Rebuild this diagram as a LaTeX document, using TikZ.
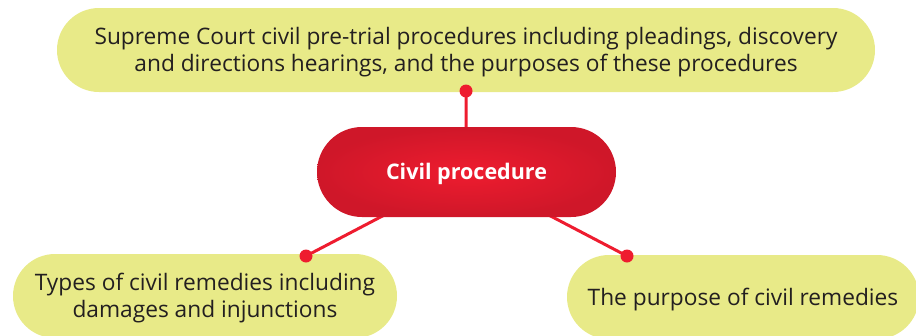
\documentclass[tikz,border=0pt]{standalone}
\usepackage{fontspec}
\setmainfont{Open Sans}
\usetikzlibrary{shapes.misc,backgrounds}
\definecolor{boxy}{HTML}{E8EA88}
\definecolor{redc}{HTML}{EE1C2F}
\definecolor{redd}{HTML}{CF1729}
\definecolor{txt}{HTML}{231F20}
\newcommand{\lowtext}[1]{\raisebox{-3pt}[\height][\depth]{\begin{tabular}{@{}c@{}}#1\end{tabular}}}
\tikzset{
  topic/.style={rounded rectangle, fill=boxy, draw=none, text=txt,
    font=\fontsize{22.7}{27}\selectfont, inner sep=0pt},
  hub/.style={rounded rectangle, draw=none, inner color=redc, outer color=redd,
    text=white, font=\fontsize{21.5}{24}\selectfont\bfseries, inner sep=0pt,
    minimum width=299pt, minimum height=90pt},
  link/.style={draw=redc, line width=3pt},
  knob/.style={circle, fill=redc, inner sep=0pt, minimum size=13pt}
}
\begin{document}
\begin{tikzpicture}[x=1pt,y=-1pt]
\useasboundingbox (0,0) rectangle (916,335);
\clip (0,0) rectangle (916,335);
\node[topic, minimum width=818pt, minimum height=84pt] (top) at (466,50)
  {\lowtext{Supreme Court civil pre-trial procedures including pleadings, discovery\\and directions hearings, and the purposes of these procedures}};
\node[topic, minimum width=384pt, minimum height=84pt] (left) at (205,296)
  {\lowtext{Types of civil remedies including\\damages and injunctions}};
\node[topic, minimum width=352pt, minimum height=84pt] (right) at (743,297)
  {\lowtext{The purpose of civil remedies}};
\node[hub] (hub) at (466.5,172) {\raisebox{-1.5pt}[\height][\depth]{Civil procedure}};
\node[knob] (k1) at (466,91) {};
\node[knob] (k2) at (306,256) {};
\node[knob] (k3) at (627,256) {};
\begin{scope}[on background layer]
\draw[link] (k1.center) -- (hub.center);
\draw[link] (k2.center) -- (hub.center);
\draw[link] (k3.center) -- (hub.center);
\end{scope}
\end{tikzpicture}
\end{document}
